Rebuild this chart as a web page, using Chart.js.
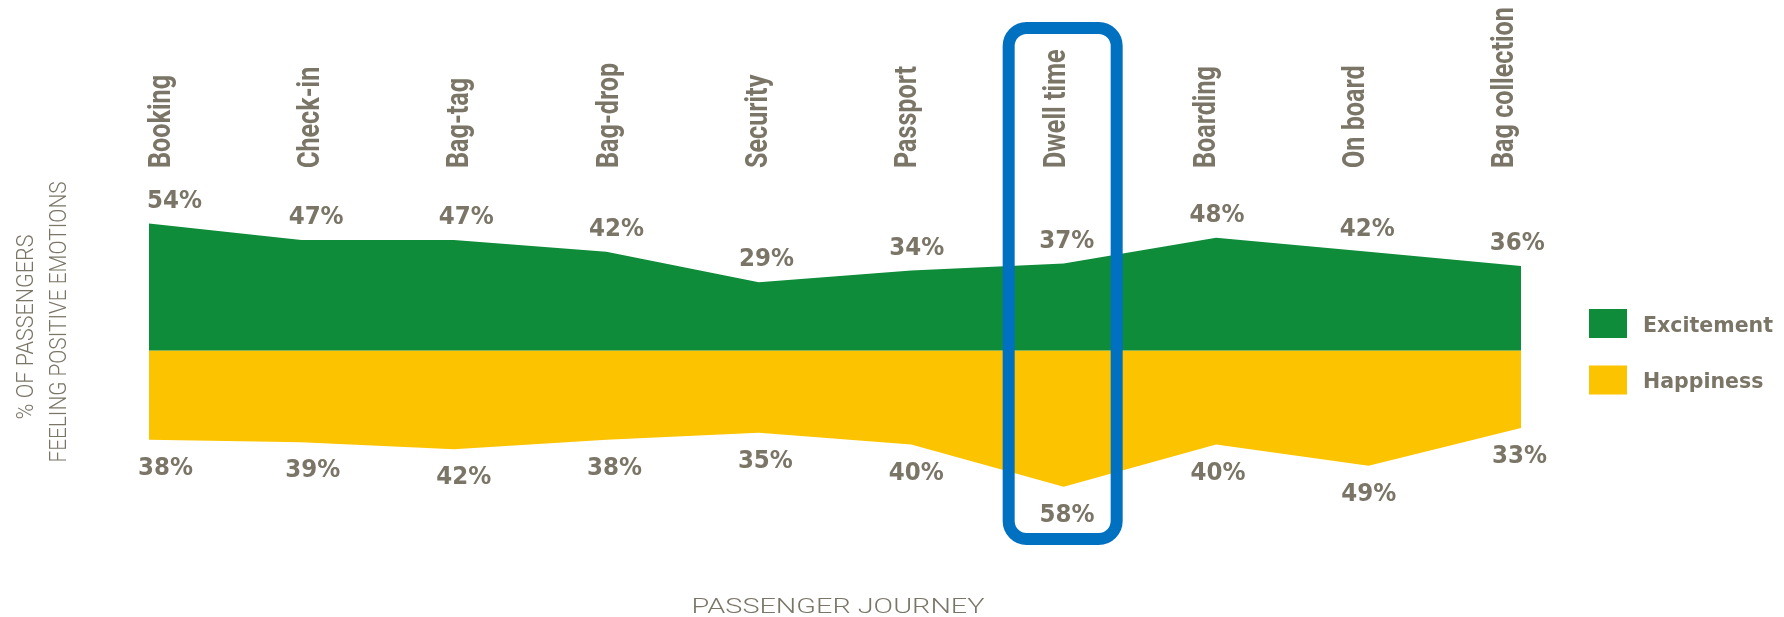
<!DOCTYPE html>
<html lang="en">
<head>
  <meta charset="UTF-8">
  <title>Passenger Journey Emotions</title>
  <script src="https://cdn.jsdelivr.net/npm/chart.js"></script>
  <style>
    html, body { margin: 0; padding: 0; background: #fff; }
    canvas { display: block; }
  </style>
</head>
<body>
<canvas id="journeyChart" width="1784" height="617"></canvas>

<script>
  // chart data
  var stages = ['Booking', 'Check-in', 'Bag-tag', 'Bag-drop', 'Security', 'Passport', 'Dwell time', 'Boarding', 'On board', 'Bag collection'];
  var excitement = [54, 47, 47, 42, 29, 34, 37, 48, 42, 36];
  var happiness = [38, 39, 42, 38, 35, 40, 58, 40, 49, 33];
  var highlightStage = 'Dwell time';

  var INK = '#7a7566';
  var GREEN = '#0f8c3a';
  var YELLOW = '#fcc400';
  var BLUE = '#0070c0';

  // draw a string, optionally rotated and squeezed to a given width
  function drawText(ctx, s, x, y, o) {
    ctx.save();
    ctx.font = o.font;
    var sx = o.width ? o.width / ctx.measureText(s).width : (o.sx || 1);
    ctx.translate(x, y);
    if (o.rot) ctx.rotate(o.rot);
    ctx.scale(sx, 1);
    ctx.fillStyle = o.color || INK;
    ctx.textAlign = o.align || 'center';
    ctx.textBaseline = 'alphabetic';
    ctx.fillText(s, 0, 0);
    ctx.restore();
  }

  function squeeze(ctx, font, sample, width) {
    ctx.save();
    ctx.font = font;
    var k = width / ctx.measureText(sample).width;
    ctx.restore();
    return k;
  }

  var decorPlugin = {
    id: 'decor',
    afterDatasetsDraw: function(chart) {
      var ctx = chart.ctx;
      var xs = chart.scales.x, ys = chart.scales.y;

      // highlight box round one stage
      var hx = xs.getPixelForValue(stages.indexOf(highlightStage));
      var l = hx - 55, r = hx + 53, t = 28, b = 539, rad = 18;
      ctx.save();
      ctx.strokeStyle = BLUE;
      ctx.lineWidth = 12;
      ctx.beginPath();
      ctx.moveTo(l + rad, t);
      ctx.lineTo(r - rad, t);
      ctx.arcTo(r, t, r, t + rad, rad);
      ctx.lineTo(r, b - rad);
      ctx.arcTo(r, b, r - rad, b, rad);
      ctx.lineTo(l + rad, b);
      ctx.arcTo(l, b, l, b - rad, rad);
      ctx.lineTo(l, t + rad);
      ctx.arcTo(l, t, l + rad, t, rad);
      ctx.closePath();
      ctx.stroke();
      ctx.restore();

      var catFont = 'bold 32px Roboto';
      var catK = squeeze(ctx, catFont, 'Booking', 93);
      var valFont = 'bold 25px "DejaVu Sans"';
      var valK = squeeze(ctx, valFont, '54%', 55);

      stages.forEach(function(name, i) {
        var px = xs.getPixelForValue(i);
        // stage names, rotated
        drawText(ctx, name, px + 21 - 3.2 * i, 168, { font: catFont, sx: catK, rot: -Math.PI / 2, align: 'left' });

        // excitement value above the line
        ctx.save();
        ctx.font = valFont;
        var w = ctx.measureText(excitement[i] + '%').width * valK;
        ctx.restore();
        var cx = Math.max(px + 17 - 2.3 * i, xs.left - 2 + w / 2);
        drawText(ctx, excitement[i] + '%', cx, ys.getPixelForValue(excitement[i]) - 16, { font: valFont, sx: valK });

        // happiness value below the line
        var hx2 = Math.max(px + 13 - 1.6 * i, xs.left - 11 + w / 2);
        drawText(ctx, happiness[i] + '%', hx2, ys.getPixelForValue(-happiness[i]) + 35, { font: valFont, sx: valK });
      });

      // legend
      var legFont = 'bold 22px "DejaVu Sans"';
      var legK = squeeze(ctx, legFont, 'Excitement', 130);
      chart.data.datasets.forEach(function(ds, i) {
        var top = 309 + i * 56.5;
        ctx.fillStyle = ds.backgroundColor;
        ctx.fillRect(1589, top, 38, 29);
        drawText(ctx, ds.label, 1643, top + 22.5, { font: legFont, sx: legK, align: 'left' });
      });

      // axis titles
      drawText(ctx, '% OF PASSENGERS', 33, 327, { font: '300 23px Roboto', width: 185, rot: -Math.PI / 2 });
      drawText(ctx, 'FEELING POSITIVE EMOTIONS', 66, 322, { font: '300 23px Roboto', width: 281, rot: -Math.PI / 2 });
      drawText(ctx, 'PASSENGER JOURNEY', 838, 613, { font: '300 21px Roboto', width: 293 });
    }
  };

  var ctx = document.getElementById('journeyChart').getContext('2d');
  var journeyChart = new Chart(ctx, {
    type: 'line',
    data: {
      labels: stages,
      datasets: [{
        label: 'Excitement',
        data: excitement,
        backgroundColor: GREEN,
        borderWidth: 0,
        fill: 'origin'
      }, {
        label: 'Happiness',
        data: happiness.map(function(v) { return -v; }),
        backgroundColor: YELLOW,
        borderWidth: 0,
        fill: 'origin'
      }]
    },
    options: {
      responsive: false,
      animation: false,
      devicePixelRatio: 1,
      layout: { padding: { left: 149, right: 263, top: 209.5, bottom: 125.5 } },
      elements: {
        point: { radius: 0, hoverRadius: 0 },
        line: { tension: 0 }
      },
      scales: {
        x: { display: false, offset: false },
        y: { display: false, min: -60, max: 60 }
      },
      plugins: {
        legend: { display: false },
        tooltip: { enabled: false }
      }
    },
    plugins: [decorPlugin]
  });
</script>
</body>
</html>
